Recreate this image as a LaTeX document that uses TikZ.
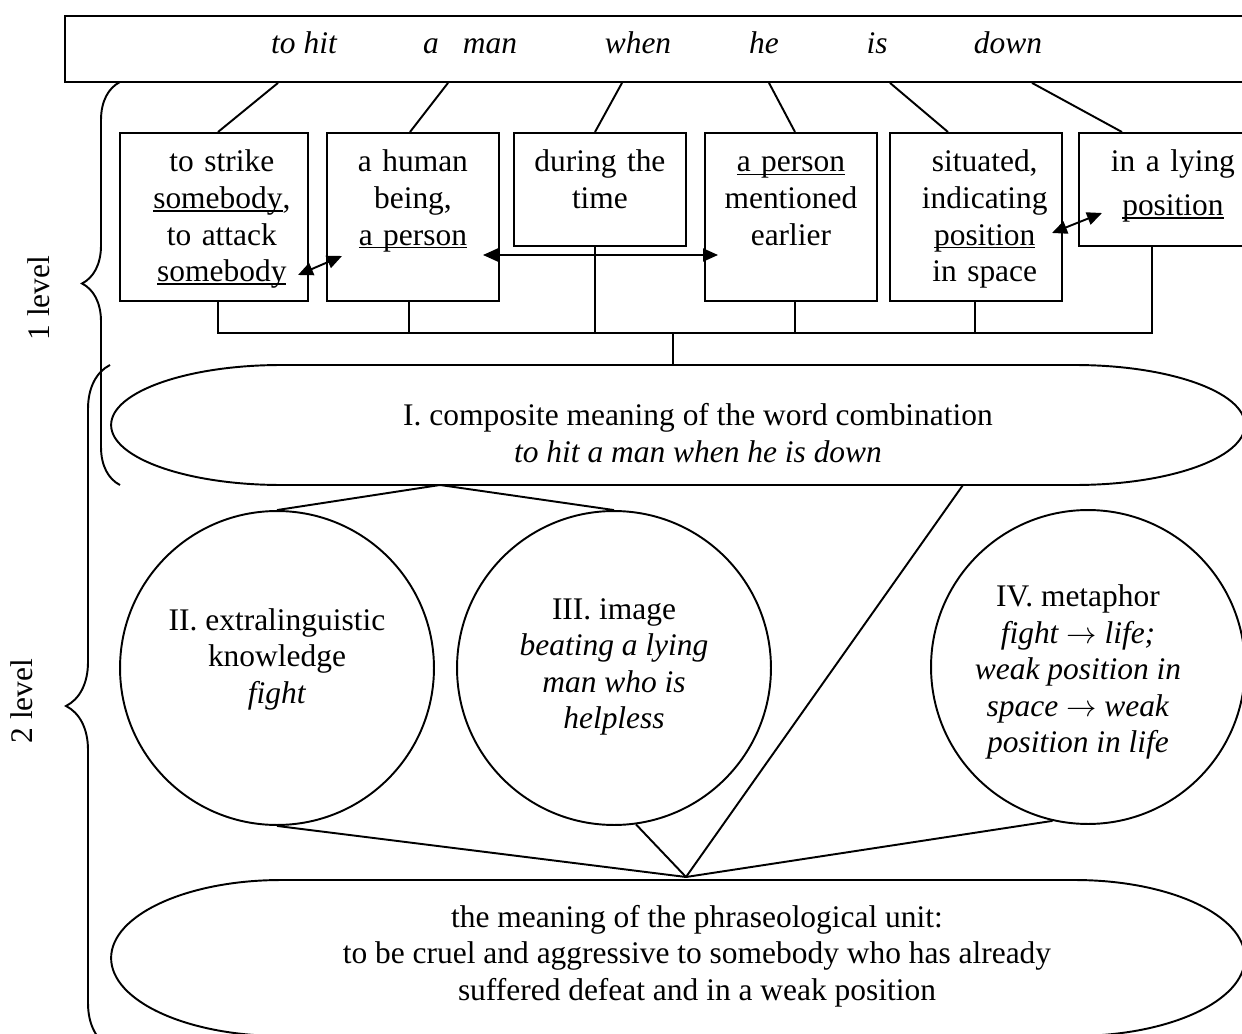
\documentclass[tikz,border=0pt]{standalone}
\usepackage{fontspec}
\setmainfont{Liberation Serif}
\usetikzlibrary{arrows.meta,decorations.pathreplacing}

% underline drawn just under the baseline, crossed by descenders
\newsavebox\uwbox
\newcommand\uword[1]{\leavevmode\sbox\uwbox{#1}\rlap{\rule[-1.8pt]{\wd\uwbox}{0.9pt}}\usebox\uwbox}

% oval with elliptic ends and a flat top and bottom, built on a node
\newcommand\drawoval[3]{%
  \draw ([xshift=#2]#1.north west) -- ([xshift=-#2]#1.north east)
    arc[start angle=90,end angle=-90,x radius=#2,y radius=#3]
    -- ([xshift=#2]#1.south west)
    arc[start angle=270,end angle=90,x radius=#2,y radius=#3] -- cycle;}

\begin{document}
\begin{tikzpicture}[x=0.02cm, y=-0.02cm, line width=1.1pt,
  font=\fontsize{17.9}{20.8}\selectfont,
  wbox/.style={draw, inner sep=0pt, anchor=north west, align=center, text height=0.78cm},
  tall/.style={text depth=2.58cm},
  short/.style={text depth=1.48cm},
  word/.style={anchor=base, font=\fontsize{17.9}{20.8}\selectfont\itshape},
  ring/.style={draw, circle, minimum size=6.28cm, inner sep=0pt},
  twoway/.style={{Triangle[length=0.3cm,width=0.26cm]}-{Triangle[length=0.3cm,width=0.26cm]}},
  bracket/.style={decorate, decoration={brace, amplitude=#1}},
  shell/.style={inner sep=0pt, outer sep=0pt, minimum width=22.68cm}]
\useasboundingbox (0,0) rectangle (1242,1034);

% the phrase
\node[draw, inner sep=0pt, anchor=north west, minimum width=23.7cm, minimum height=1.32cm] (bar) at (64,15) {};
\node[word] (w1) at (304,54) {to hit};
\node[word] (w2) at (431,54) {a};
\node[word] (w3) at (490,54) {man};
\node[word] (w4) at (638,54) {when};
\node[word] (w5) at (764,54) {he};
\node[word] (w6) at (877,54) {is};
\node[word] (w7) at (1008,54) {down};

% meanings of the single words
\node[wbox, tall, text width=3.76cm] (b1) at (119,132) {\hspace*{9pt}to strike\\\hspace*{9pt}\uword{somebody},\\\hspace*{9pt}to attack\\\hspace*{9pt}\uword{somebody}};
\node[wbox, tall, text width=3.44cm] (b2) at (326,132) {a human\\being,\\\uword{a person}};
\node[wbox, short, text width=3.44cm] (b3) at (513,132) {during the\\time};
\node[wbox, tall, text width=3.44cm] (b4) at (704,132) {\uword{a person}\\mentioned\\earlier};
\node[wbox, tall, text width=3.44cm] (b5) at (889,132) {\hspace*{10pt}situated,\\\hspace*{10pt}indicating\\\hspace*{10pt}\uword{position}\\\hspace*{10pt}in space};
\node[wbox, short, text width=3.76cm] (b6) at (1078,132) {in a lying\\[4pt]\uword{position}};

\draw (bar.south -| 278,0) -- (b1.north -| 218,0);
\draw (bar.south -| 448,0) -- (b2.north -| 410,0);
\draw (bar.south -| 622,0) -- (b3.north -| 595,0);
\draw (bar.south -| 769,0) -- (b4.north -| 795,0);
\draw (bar.south -| 890,0) -- (b5.north -| 948,0);
\draw (bar.south -| 1032,0) -- (b6.north -| 1122,0);

% links between related meanings
\coordinate (p1) at (298,275); \coordinate (q1) at (342,256);
\coordinate (p2) at (483,255); \coordinate (q2) at (718,255);
\coordinate (p3) at (1052,233); \coordinate (q3) at (1102,213);
\draw[twoway] (p1) -- (q1);
\draw[twoway] (p2) -- (q2);
\draw[twoway] (p3) -- (q3);

% composite meaning
\node[shell, minimum height=2.4cm] (e1) at (678,425) {};
\drawoval{e1}{3.4cm}{1.2cm}
\node[align=center] (e1t) at (698,433) {I. composite meaning of the word combination\\\textit{to hit a man when he is down}};

% collecting line
\coordinate (bus) at (673,333);
\draw (b1.south -| 218,0) |- (bus);
\draw (b6.south -| 1152,0) |- (bus);
\foreach \b/\x in {b2/409,b3/595,b4/795,b5/975}
  \draw (\b.south -| \x,0) -- (bus -| \x,0);
\draw (bus) -- (e1.north -| bus);

% second level components
\node[ring] (c2) at (277,668) {};
\node[ring] (c3) at (614,668) {};
\node[ring] (c4) at (1088,667) {};
\node[align=center] (c2t) at (277,659) {II. extralinguistic\\knowledge\\\textit{fight}};
\node[align=center] (c3t) at (614,667) {III. image\\\textit{beating a lying}\\\textit{man who is}\\\textit{helpless}};
\node[align=center] (c4t) at (1078,672) {IV. metaphor\\\textit{fight $\rightarrow$ life;}\\\textit{weak position in}\\\textit{space $\rightarrow$ weak}\\\textit{position in life}};

% meaning of the phraseological unit
\node[shell, minimum height=3.12cm] (e2) at (678,958) {};
\drawoval{e2}{3.4cm}{1.56cm}
\node[align=center] (e2t) at (697,956) {the meaning of the phraseological unit:\\to be cruel and aggressive to somebody who has already\\suffered defeat and in a weak position};

\coordinate (fork) at (e1.south -| 440,0);
\draw (c2.north) -- (fork) -- (c3.north);
\coordinate (apex) at (686,877);
\draw (c2.south) -- (apex);
\draw (c3.-82) -- (apex);
\draw (e1.south -| 963,0) -- (apex);
\draw (c4.257) -- (apex);

% levels
\draw[bracket=0.76cm] (120,485) -- (120,82);
\draw[bracket=0.88cm] (110,1047) -- (110,365);
\node[rotate=90] (lv1) at (39,298) {1 level};
\node[rotate=90] (lv2) at (22,701) {2 level};
\end{tikzpicture}
\end{document}
